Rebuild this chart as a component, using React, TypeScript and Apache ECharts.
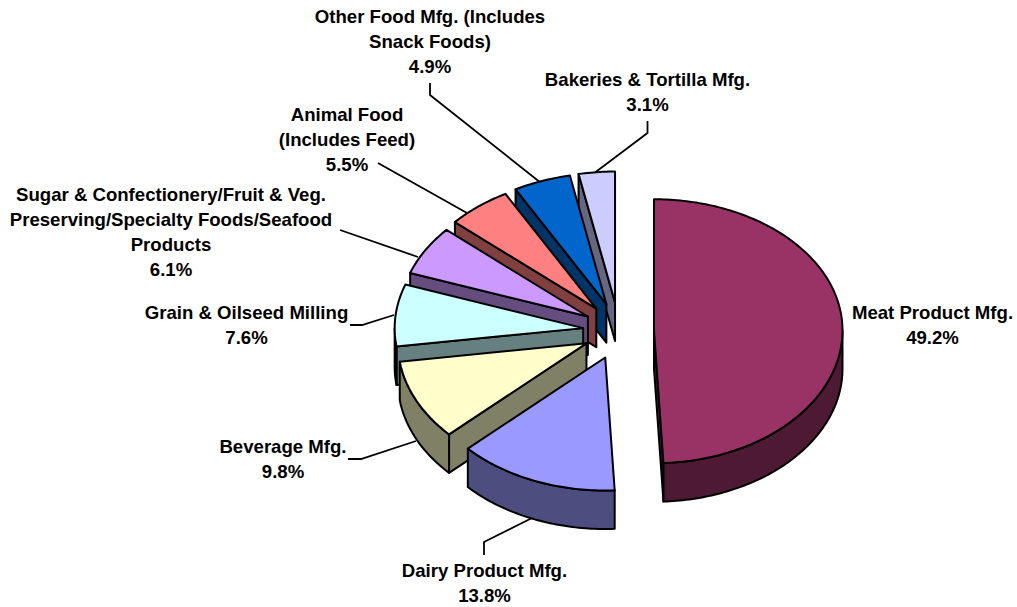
import React, { useEffect, useRef } from "react";
import * as echarts from "echarts";

// ---- data ----
const categories = [
  "Meat Product Mfg.",
  "Dairy Product Mfg.",
  "Beverage Mfg.",
  "Grain & Oilseed Milling",
  "Sugar & Confectionery/Fruit & Veg. Preserving/Specialty Foods/Seafood Products",
  "Animal Food (Includes Feed)",
  "Other Food Mfg. (Includes Snack Foods)",
  "Bakeries & Tortilla Mfg.",
];
const shares = [49.2, 13.8, 9.8, 7.6, 6.1, 5.5, 4.9, 3.1];
const labelLines = [
  ["Meat Product Mfg."],
  ["Dairy Product Mfg."],
  ["Beverage Mfg."],
  ["Grain & Oilseed Milling"],
  ["Sugar & Confectionery/Fruit & Veg.", "Preserving/Specialty Foods/Seafood", "Products"],
  ["Animal Food", "(Includes Feed)"],
  ["Other Food Mfg. (Includes", "Snack Foods)"],
  ["Bakeries & Tortilla Mfg."],
];

// ---- styling and layout ----
const topColors = ["#993366", "#9999FF", "#FFFFCC", "#CCFFFF", "#CC99FF", "#FF8080", "#0066CC", "#CCCCFF"];
const sideColors = ["#4D1933", "#4D4D80", "#808066", "#668080", "#664D80", "#804040", "#003366", "#666680"];
const pie = { cx: 618.5, cy: 331, rx: 188.5, ryBack: 131, ryFront: 133, depth: 38.5, explodeX: 35.5, explodeY: 28.6 };
const labelCenters = [
  [932.5, 300], [484.5, 557.5], [283, 433.5], [246.5, 300], [171, 181.5], [347, 101.5], [430, 4], [647.5, 67],
];
const leaders: number[][][] = [
  [],
  [[484, 555], [484, 542], [534, 517]],
  [[348, 459], [361, 459], [416, 441]],
  [[350, 325], [362, 325], [394, 315]],
  [[340, 230], [418, 257]],
  [[378, 163], [467, 213]],
  [[430, 83], [430, 95], [541, 183]],
  [[647.5, 121], [647.5, 133], [593, 174]],
];
const drawOrder = [7, 6, 5, 4, 3, 2, 1, 0];
const FONT = 'bold 18.6px "Liberation Sans", Arial, sans-serif';
const LINE_W = 2;

const total = shares.reduce((a, b) => a + b, 0);
const rad = (d: number) => (d * Math.PI) / 180;

function sliceGeometry(i: number) {
  const before = shares.slice(0, i).reduce((a, b) => a + b, 0);
  const a0 = (before / total) * 360;
  const a1 = ((before + shares[i]) / total) * 360;
  const mid = rad((a0 + a1) / 2);
  const cx = pie.cx + pie.explodeX * Math.sin(mid);
  const cy = pie.cy - pie.explodeY * Math.cos(mid);
  return { a0, a1, cx, cy };
}

function renderItem(_params: any, api: any) {
  const i = drawOrder[api.value(0)];
  const { a0, a1, cx, cy } = sliceGeometry(i);
  const rim = (a: number, drop = 0) => {
    const c = Math.cos(rad(a));
    return [cx + pie.rx * Math.sin(rad(a)), cy - (c > 0 ? pie.ryBack : pie.ryFront) * c + drop];
  };
  const arc = (from: number, to: number, drop = 0) => {
    const n = Math.max(2, Math.ceil(Math.abs(to - from)));
    const pts: number[][] = [];
    for (let k = 0; k <= n; k++) pts.push(rim(from + ((to - from) * k) / n, drop));
    return pts;
  };
  const edge = { stroke: "#000", lineWidth: LINE_W, lineJoin: "round" };
  const apex = [cx, cy];
  const apexLow = [cx, cy + pie.depth];
  const children: any[] = [];

  if (leaders[i].length) {
    children.push({
      type: "polyline",
      silent: true,
      shape: { points: leaders[i] },
      style: { stroke: "#000", lineWidth: 1.8, fill: "none" },
    });
  }
  // cut face at the start of the slice
  if (Math.sin(rad(a0)) < -1e-6) {
    children.push({
      type: "polygon",
      silent: true,
      shape: { points: [apex, rim(a0), rim(a0, pie.depth), apexLow] },
      style: { ...edge, fill: sideColors[i] },
    });
  }
  // cut face at the end of the slice
  if (Math.sin(rad(a1)) > 1e-6) {
    children.push({
      type: "polygon",
      silent: true,
      shape: { points: [apex, rim(a1), rim(a1, pie.depth), apexLow] },
      style: { ...edge, fill: sideColors[i] },
    });
  }
  // outer wall: the part of the rim that faces the viewer
  const wallFrom = Math.max(a0, 90);
  const wallTo = Math.min(a1, 270);
  if (wallTo > wallFrom) {
    children.push({
      type: "polygon",
      silent: true,
      shape: { points: [...arc(wallFrom, wallTo), ...arc(wallTo, wallFrom, pie.depth)] },
      style: { ...edge, fill: sideColors[i] },
    });
  }
  // top face
  children.push({
    type: "polygon",
    silent: true,
    shape: { points: [apex, ...arc(a0, a1)] },
    style: { ...edge, fill: topColors[i] },
  });
  // label
  children.push({
    type: "text",
    silent: true,
    style: {
      text: [...labelLines[i], shares[i].toFixed(1) + "%"].join("\n"),
      x: labelCenters[i][0],
      y: labelCenters[i][1],
      align: "center",
      verticalAlign: "top",
      font: FONT,
      lineHeight: 25,
      fill: "#000",
    },
  });
  return { type: "group", children };
}

export default function App() {
  const ref = useRef<HTMLDivElement>(null);
  useEffect(() => {
    const chart = echarts.init(ref.current!, undefined, { renderer: "svg" });
    chart.setOption({
      animation: false,
      backgroundColor: "#fff",
      series: [
        {
          type: "custom",
          coordinateSystem: "none",
          silent: true,
          clip: false,
          data: drawOrder.map((d, k) => ({ name: categories[d], value: [k, shares[d]] })),
          renderItem,
        },
      ],
    });
    return () => chart.dispose();
  }, []);
  return <div ref={ref} style={{ position: "fixed", left: 0, top: 0, width: 1017, height: 607 }} />;
}
